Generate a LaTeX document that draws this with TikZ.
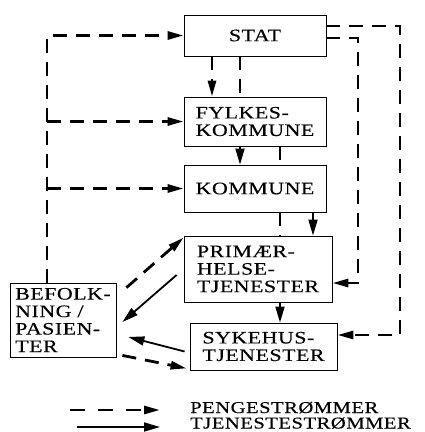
\documentclass[tikz,border=0pt]{standalone}
\usepackage{fontspec}
\setmainfont{Liberation Serif}[FakeStretch=1.25,LetterSpace=3,FakeBold=0.3]
\usetikzlibrary{arrows.meta,positioning}

\begin{document}
\begin{tikzpicture}[x=1pt,y=-1pt,
    boks/.style={rectangle,draw,line width=0.8pt,align=left,inner sep=0pt,font=\fontsize{17.5}{17.5}\selectfont},
    penger/.style={line width=2.8pt,dash pattern=on 14pt off 9pt,-{Triangle[length=16pt,width=8pt]}},
    tjeneste/.style={line width=1.8pt,-{Triangle[length=16pt,width=9pt]}}]
    \useasboundingbox (0,0) rectangle (425,432);

    % boxes
    \node[boks,minimum width=142pt,minimum height=41pt] (stat) at (255,35.5) {STAT};
    \node[boks,minimum width=142pt,minimum height=49pt] (fylke) at (255,121.5) {FYLKES-\\KOMMUNE};
    \node[boks,minimum width=142pt,minimum height=47pt] (kommune) at (255,188.5) {KOMMUNE};
    \node[boks,minimum width=148pt,minimum height=66pt] (primaer) at (258,269) {PRIMÆR-\\HELSE-\\TJENESTER};
    \node[boks,minimum width=147pt,minimum height=47pt] (sykehus) at (263.5,346.5) {SYKEHUS-\\TJENESTER};
    \node[boks,minimum width=106pt,minimum height=74pt] (befolk) at (63,320) {BEFOLK-\\NING /\\PASIEN-\\TER};

    % columns and corners for the money lines
    \coordinate (venstre) at (47,0);
    \coordinate (k1) at (212,0);
    \coordinate (k2) at (240,0);
    \coordinate (k3) at (280,0);
    \coordinate (k4) at (313,0);
    \coordinate (r1) at (358,283);
    \coordinate (r2) at (400,335);

    % money flows
    \draw[penger] (befolk.north -| venstre) |- (stat.west);
    \draw[penger] (venstre |- fylke.west) -- (fylke.west);
    \draw[penger] (venstre |- kommune.west) -- (kommune.west);
    \draw[penger] (stat.south -| k1) -- (fylke.north -| k1);
    \draw[penger,-] (stat.south -| k2) -- (fylke.north -| k2);
    \draw[penger,-] (fylke.south -| k3) -- (kommune.north -| k3);
    \draw[penger,-] (kommune.south -| k3) -- (primaer.north -| k3);
    \draw[penger] ([yshift=9.5pt]stat.east) -| (r2) -- (sykehus.east |- r2);
    \draw[penger] ([yshift=-2.5pt]stat.east) -| (r1) -- (primaer.east |- r1);
    \draw[penger] ([xshift=10pt,yshift=-5pt]befolk.north east) -- ([yshift=-2pt]primaer.north west);
    \draw[penger] ([xshift=6pt,yshift=2pt]befolk.south east) -- ([xshift=-3pt,yshift=2pt]sykehus.south west);

    % service flows
    \draw[tjeneste] (fylke.south -| k2) -- (kommune.north -| k2);
    \draw[tjeneste] (kommune.south -| k4) -- (primaer.north -| k4);
    \draw[tjeneste] (primaer.south -| k3) -- (sykehus.north -| k3);
    \draw[tjeneste] ([xshift=-7pt,yshift=-6pt]primaer.west) -- ([xshift=6pt,yshift=-2pt]befolk.east);
    \draw[tjeneste] ([xshift=-5pt,yshift=-5pt]sykehus.west) -- ([xshift=12pt,yshift=-17pt]befolk.east);

    % legend
    \coordinate (p1) at (70,410);
    \coordinate (p2) at (160,410);
    \coordinate (t1) at (77,427);
    \coordinate (t2) at (160,427);
    \draw[penger,dash pattern=on 15pt off 13pt] (p1) -- (p2);
    \draw[tjeneste] (t1) -- (t2);
    \node[anchor=base west,inner sep=0pt,font=\fontsize{16.5}{16}\selectfont] (pengetekst) at (190,413) {PENGESTRØMMER};
    \node[anchor=base west,inner sep=0pt,font=\fontsize{16.5}{16}\selectfont] (tjenestetekst) at (190,428.5) {TJENESTESTRØMMER};
\end{tikzpicture}
\end{document}
